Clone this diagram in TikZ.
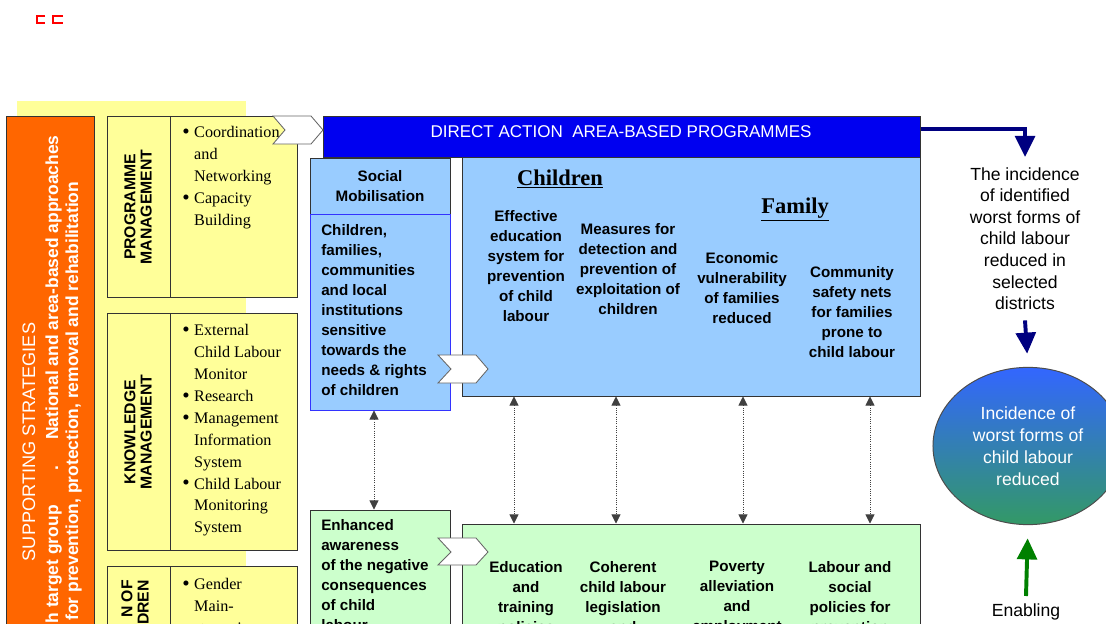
\documentclass[tikz,border=0pt]{standalone}
\usepackage{fontspec}
\setmainfont{Liberation Serif}
\setsansfont{Liberation Sans}
\usetikzlibrary{arrows.meta, shapes.geometric, fit}

\definecolor{orangebar}{HTML}{FF6600}
\definecolor{paleyellow}{HTML}{FFFF99}
\definecolor{actionblue}{HTML}{0000F0}
\definecolor{skyblue}{HTML}{99CCFF}
\definecolor{mint}{HTML}{CCFFCC}
\definecolor{navyline}{HTML}{000080}
\definecolor{arrowgreen}{HTML}{008000}
\definecolor{goalblue}{HTML}{3366FF}
\definecolor{goalgreen}{HTML}{339966}
\definecolor{edgeblue}{HTML}{3333FF}

\newcommand{\bul}{\makebox[8.5pt][l]{\raisebox{-0.6pt}{\fontsize{15}{0}\selectfont\textbullet}}}
\newcommand{\ind}{\hspace*{8.5pt}}

\begin{document}
\begin{tikzpicture}[x=0.025cm, y=-0.025cm, inner sep=0pt]
	\tikzstyle{every node}=[align=center]
	\tikzstyle{box}=[draw=black!80, line width=0.7pt, inner sep=0pt]
	\tikzstyle{body}=[font=\fontsize{10.8}{14.2}\selectfont\sffamily\bfseries]
	\tikzstyle{plain}=[font=\fontsize{12.5}{15.4}\selectfont\sffamily]
	\tikzstyle{sidetext}=[rotate=90, text=white, font=\fontsize{12.4}{14}\selectfont\sffamily\bfseries]
	\tikzstyle{bullets}=[align=left, anchor=north west, font=\fontsize{11.5}{15.6}\selectfont\rmfamily]
	\tikzstyle{strategy}=[rotate=90, font=\fontsize{11.2}{11.6}\selectfont\sffamily\bfseries]
	\tikzstyle{dotlink}=[densely dotted, black!75, line width=0.6pt, {Triangle[width=6.5pt,length=6.5pt]}-{Triangle[width=6.5pt,length=6.5pt]}]
	\tikzstyle{bigarrow}=[line width=2.8pt, -{Triangle[width=14pt,length=15pt]}]
	\tikzstyle{chevron}=[draw=black!60, fill=white, line width=0.6pt]

	\useasboundingbox (0,0) rectangle (1106,624);
	\clip (0,0) rectangle (1106,624);
	\fill[white] (0,0) rectangle (1106,624);

	\draw[red, line width=1.4pt] (45,16) -- (37,16) -- (37,23) -- (45,23)
		(63,16) -- (53,16) -- (53,23) -- (63,23);

	% supporting strategies
	\fill[paleyellow] (17,101) rectangle (246,660);
	\node[box, fill=orangebar, fit={(6,116) (94,660)}] (strat) {};
	\node[rotate=90, text=white, anchor=base, font=\fontsize{12.9}{14}\selectfont\sffamily] (stratname) at (35,442) {SUPPORTING STRATEGIES};
	\node[sidetext, anchor=base east] (target) at (58,505) {h target group};
	\node[sidetext, anchor=base] (stop) at (58,468) {.};
	\node[sidetext, anchor=base west] (approach) at (58,440) {National and area-based approaches};
	\node[sidetext, anchor=base west] (aims) at (78,621) {for prevention, protection, removal and rehabilitation};

	\node[box, fill=paleyellow, fit={(107,116) (297,297)}] (progbox) {};
	\draw[black!80, line width=0.7pt] (170,116) -- (170,297);
	\node[strategy] (progname) at (138,207) {PROGRAMME\\MANAGEMENT};
	\node[bullets] (progitems) at (182,126) {\bul Coordination\\\ind and\\\ind Networking\\\bul Capacity\\\ind Building};

	\node[box, fill=paleyellow, fit={(107,313) (297,550)}] (knowbox) {};
	\draw[black!80, line width=0.7pt] (170,313) -- (170,550);
	\node[strategy] (knowname) at (138,432) {KNOWLEDGE\\MANAGEMENT};
	\node[bullets] (knowitems) at (182,324) {\bul External\\\ind Child Labour\\\ind Monitor\\\bul Research\\\bul Management\\\ind Information\\\ind System\\\bul Child Labour\\\ind Monitoring\\\ind System};

	\node[box, fill=paleyellow, fit={(107,566) (297,660)}] (genbox) {};
	\draw[black!80, line width=0.7pt] (170,566) -- (170,660);
	\node[strategy, anchor=east, align=right] (genname) at (135,580) {N OF\\DREN};
	\node[bullets] (genitems) at (182,578) {\bul Gender\\\ind Main-\\\ind streaming};

	% direct action
	\node[box, fill=actionblue, fit={(323,116) (920,157)}] (direct) {};
	\node[text=white, font=\fontsize{12.1}{14}\selectfont\sffamily] (directname) at (621,132) {DIRECT ACTION\ \ AREA-BASED PROGRAMMES};
	\draw[chevron] (273,116) -- (285,130) -- (273,144) -- (311,144) -- (323,130) -- (311,116) -- cycle;

	\node[box, fill=skyblue, fit={(310,158) (450,214)}] (mobhead) {};
	\node[body] (mobname) at (380,186) {Social\\Mobilisation};
	\node[box, draw=edgeblue, fill=skyblue, fit={(310,214) (450,410)}] (mob) {};
	\node[body, align=left, anchor=north west] (mobtext) at (321,224) {Children,\\families,\\communities\\and local\\institutions\\sensitive\\towards the\\needs \& rights\\of children};

	\node[box, fill=skyblue, fit={(462,157) (920,396)}] (kids) {};
	\node[font=\fontsize{16}{18}\selectfont\rmfamily\bfseries, anchor=base] (kidstitle) at (560,185) {\underline{Children}};
	\node[font=\fontsize{16}{18}\selectfont\rmfamily\bfseries, anchor=base] (familytitle) at (795,213) {\underline{Family}};
	\node[body, anchor=north] (school) at (526,210) {Effective\\education\\system for\\prevention\\of child\\labour};
	\node[body, anchor=north] (detect) at (628,223) {Measures for\\detection and\\prevention of\\exploitation of\\children};
	\node[body, anchor=north] (econ) at (742,252) {Economic\\vulnerability\\of families\\reduced};
	\node[body, anchor=north] (safety) at (852,266) {Community\\safety nets\\for families\\prone to\\child labour};
	\draw[chevron] (438,355) -- (451,369) -- (438,383) -- (476,383) -- (488,369) -- (476,355) -- cycle;

	% enabling environment
	\node[box, fill=mint, fit={(310,510) (450,660)}] (aware) {};
	\node[body, align=left, anchor=north west] (awaretext) at (321,519) {Enhanced\\awareness\\of the negative\\consequences\\of child\\labour};
	\node[box, fill=mint, fit={(462,524) (920,660)}] (policy) {};
	\node[body, anchor=north] (training) at (526,561) {Education\\and\\training\\policies};
	\node[body, anchor=north] (law) at (623,561) {Coherent\\child labour\\legislation\\and};
	\node[body, anchor=north] (poverty) at (737,561) {Poverty\\alleviation\\and\\employment};
	\node[body, anchor=north] (social) at (850,561) {Labour and\\social\\policies for\\prevention};
	\draw[chevron] (438,538) -- (451,552) -- (438,565) -- (476,565) -- (488,552) -- (476,538) -- cycle;

	\draw[dotlink] ([xshift=-0.15cm]mob.south) -- ([xshift=-0.15cm]aware.north);
	\foreach \x in {514,616,743,870}
		\draw[dotlink] (kids.south -| \x,0) -- (policy.north -| \x,0);

	% impact
	\node[plain, anchor=north, inner ysep=0.25cm] (district) at (1025,157) {The incidence\\of identified\\worst forms of\\child labour\\reduced in\\selected\\districts};
	\node[ellipse, draw=black!70, line width=0.7pt, top color=goalblue, bottom color=goalgreen, minimum width=4.75cm, minimum height=3.93cm, text=white, font=\fontsize{12.5}{15.6}\selectfont\sffamily] (goal) at (1028,446) {Incidence of\\worst forms of\\child labour\\reduced};
	\node[plain, anchor=north, inner ysep=0.18cm] (enable) at (1026,596) {Enabling};

	\draw[bigarrow, navyline] ([yshift=0.19cm]direct.east) -| (district.north);
	\draw[bigarrow, navyline, shorten >=0.33cm] (district.south) -- (goal.north);
	\draw[bigarrow, arrowgreen, shorten >=0.33cm] (enable.north) -- (goal.south);
\end{tikzpicture}
\end{document}
